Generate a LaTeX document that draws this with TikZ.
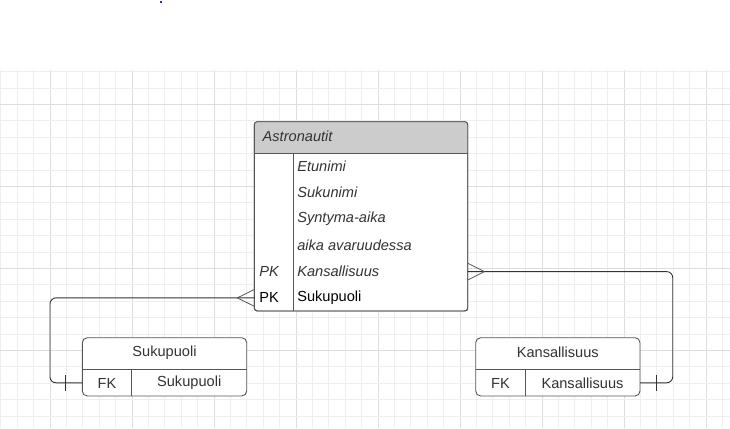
\documentclass[tikz,border=0pt]{standalone}
\usepackage{fontspec}
\setmainfont{Liberation Sans}
\definecolor{gridminor}{HTML}{EEEEEE}
\definecolor{gridmajor}{HTML}{DDDDDD}
\definecolor{bordercol}{HTML}{555555}
\definecolor{hdrfill}{HTML}{CCCCCC}
\definecolor{txtcol}{HTML}{333333}
\definecolor{dotblue}{HTML}{2A2AF0}
\begin{document}
\begin{tikzpicture}[x=1pt,y=-1pt,
  every node/.style={inner sep=0pt, outer sep=0pt, font=\fontsize{14.6}{17}\selectfont, text=txtcol},
  tbl/.style={draw=bordercol, line width=0.9pt, fill=white, rounded corners=3pt, rectangle},
  smalltbl/.style={tbl, rounded corners=5pt},
  sep/.style={draw=bordercol, line width=0.9pt},
  conn/.style={draw=txtcol, line width=0.9pt, rounded corners=6pt},
  foot/.style={draw=bordercol, line width=0.8pt},
  it/.style={font=\fontsize{14.6}{17}\selectfont\itshape},
  gmin/.style={draw=gridminor, line width=0.8pt},
  gmaj/.style={draw=gridmajor, line width=0.8pt}]
\useasboundingbox (0,0) rectangle (730,428);
\fill[white] (0,0) rectangle (730,428);
% grid
\foreach \i in {0,...,44} {
  \pgfmathsetmacro{\xx}{0.8+16.4*\i}
  \pgfmathtruncatemacro{\m}{mod(\i+2,5)}
  \ifnum\m=0 \draw[gmaj] (\xx,69.5) -- (\xx,428); \else \draw[gmin] (\xx,69.5) -- (\xx,428); \fi
}
\foreach \j in {0,...,21} {
  \pgfmathsetmacro{\yy}{71.5+16.4*\j}
  \pgfmathtruncatemacro{\m}{mod(\j+3,5)}
  \ifnum\m=0 \draw[gmaj] (0,\yy) -- (730,\yy); \else \draw[gmin] (0,\yy) -- (730,\yy); \fi
}
% blue dot
\fill[dotblue] (160.2,1.2) rectangle (162.4,3.4);

% main table
\node[tbl, anchor=north west, minimum width=213.4pt, minimum height=189.3pt] (astro) at (254.3,121.7) {};
\begin{scope}
  \clip[rounded corners=3pt] (254.3,121.7) rectangle (467.7,311);
  \fill[hdrfill] (254.3,121.7) rectangle (467.7,153.3);
\end{scope}
\draw[tbl, fill=none] (254.3,121.7) rectangle (467.7,311);
\coordinate (hdrL) at (254.3,153.3);
\coordinate (hdrR) at (467.7,153.3);
\draw[sep] (hdrL) -- (hdrR);
\coordinate (divT) at (293.3,153.3);
\coordinate (divB) at (293.3,311);
\draw[sep] (divT) -- (divB);
\node[it, anchor=west] (title) at (262.7,136.5) {Astronautit};
\node[it, anchor=west] (r1) at (297.3,166.0) {Etunimi};
\node[it, anchor=west] (r2) at (297.3,192.3) {Sukunimi};
\node[it, anchor=west] (r3) at (297.3,218.6) {Syntyma-aika};
\node[it, anchor=west] (r4) at (297.3,244.9) {aika avaruudessa};
\node[it, anchor=west] (r5) at (297.3,271.2) {Kansallisuus};
\node[it, anchor=west] (k5) at (259.3,271.2) {PK};
\node[anchor=west, text=black] (r6) at (297.3,297.5) {Sukupuoli};
\node[anchor=west, text=black] (k6) at (259.3,297.5) {PK};

% left lower table
\node[smalltbl, anchor=north west, minimum width=164.4pt, minimum height=58.3pt] (suk) at (82.3,337.7) {};
\coordinate (sukML) at (82.3,369.5);
\coordinate (sukMR) at (246.7,369.5);
\draw[sep] (sukML) -- (sukMR);
\coordinate (sukDT) at (131.7,369.5);
\coordinate (sukDB) at (131.7,396);
\draw[sep] (sukDT) -- (sukDB);
\node (sukT) at (164.5,352.5) {Sukupuoli};
\node (sukFK) at (107,383) {FK};
\node (sukA) at (189.2,383) {Sukupuoli};

% right lower table
\node[smalltbl, anchor=north west, minimum width=164.3pt, minimum height=58.3pt] (kan) at (475.7,337.7) {};
\coordinate (kanML) at (475.7,369.5);
\coordinate (kanMR) at (640,369.5);
\draw[sep] (kanML) -- (kanMR);
\coordinate (kanDT) at (525,369.5);
\coordinate (kanDB) at (525,396);
\draw[sep] (kanDT) -- (kanDB);
\node (kanT) at (557.8,352.5) {Kansallisuus};
\node (kanFK) at (500.4,383) {FK};
\node (kanA) at (582.5,383) {Kansallisuus};

% left connector
\coordinate (lS) at (254.3,297.9);
\coordinate (lE) at (82.3,382.8);
\draw[conn] (lS) -- (50,297.9) -- (50,382.8) -- (lE);
\coordinate (lTip) at (237.3,297.9);
\draw[foot] (254.3,289.5) -- (lTip) -- (254.3,306.3);
\coordinate (lBarT) at (65.7,375);
\coordinate (lBarB) at (65.7,391);
\draw[conn] (lBarT) -- (lBarB);

% right connector
\coordinate (rS) at (467.7,271.6);
\coordinate (rE) at (640,382.8);
\draw[conn] (rS) -- (672.7,271.6) -- (672.7,382.8) -- (rE);
\coordinate (rTip) at (484.5,271.6);
\draw[foot] (467.7,263.2) -- (rTip) -- (467.7,280);
\coordinate (rBarT) at (656.7,375);
\coordinate (rBarB) at (656.7,391);
\draw[conn] (rBarT) -- (rBarB);
\end{tikzpicture}
\end{document}
